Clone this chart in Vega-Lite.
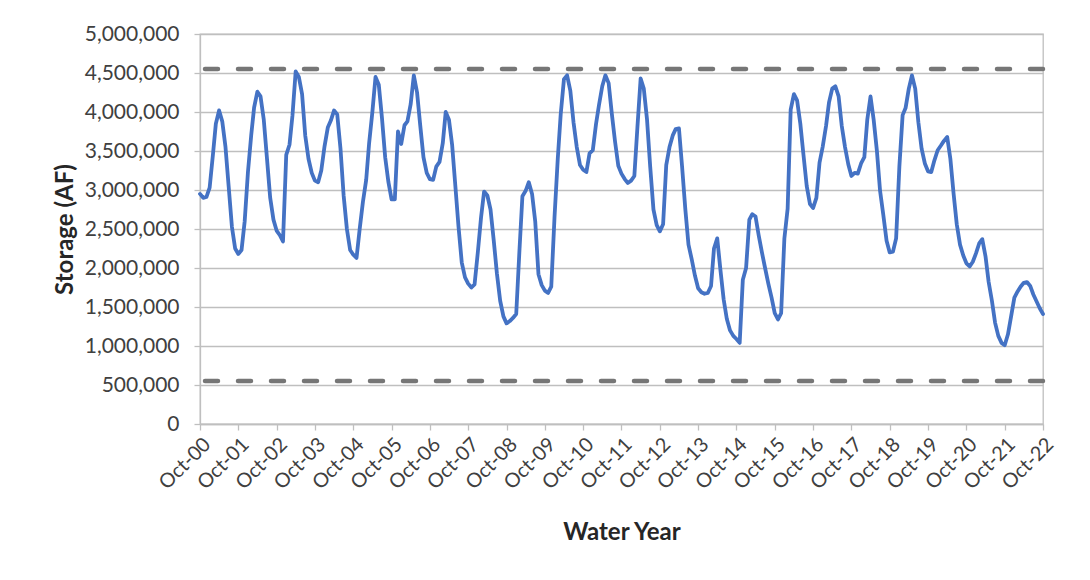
{
"$schema": "https://vega.github.io/schema/vega-lite/v6.json",
"width": 843, "height": 390,
"autosize": {"type": "none"},
"padding": {"left": 200, "top": 34, "right": 47, "bottom": 156},
"background": "white",
"config": {"view": {"stroke": "#bfbfbf", "strokeWidth": 1.3}, "font": "Lato"},
"datasets": {
"limits": [{"limit": 4550000}, {"limit": 550000}],
"storage": [
{"month":"2000-10-01","storage":2950000},{"month":"2000-11-01","storage":2900000},{"month":"2000-12-01","storage":2910000},{"month":"2001-01-01","storage":3030000},{"month":"2001-02-01","storage":3450000},{"month":"2001-03-01","storage":3850000},{"month":"2001-04-01","storage":4020000},{"month":"2001-05-01","storage":3880000},{"month":"2001-06-01","storage":3550000},{"month":"2001-07-01","storage":3050000},{"month":"2001-08-01","storage":2530000},{"month":"2001-09-01","storage":2250000},
{"month":"2001-10-01","storage":2180000},{"month":"2001-11-01","storage":2230000},{"month":"2001-12-01","storage":2600000},{"month":"2002-01-01","storage":3230000},{"month":"2002-02-01","storage":3700000},{"month":"2002-03-01","storage":4060000},{"month":"2002-04-01","storage":4260000},{"month":"2002-05-01","storage":4200000},{"month":"2002-06-01","storage":3900000},{"month":"2002-07-01","storage":3410000},{"month":"2002-08-01","storage":2900000},{"month":"2002-09-01","storage":2620000},
{"month":"2002-10-01","storage":2480000},{"month":"2002-11-01","storage":2420000},{"month":"2002-12-01","storage":2340000},{"month":"2003-01-01","storage":3450000},{"month":"2003-02-01","storage":3580000},{"month":"2003-03-01","storage":3950000},{"month":"2003-04-01","storage":4520000},{"month":"2003-05-01","storage":4450000},{"month":"2003-06-01","storage":4230000},{"month":"2003-07-01","storage":3700000},{"month":"2003-08-01","storage":3400000},{"month":"2003-09-01","storage":3220000},
{"month":"2003-10-01","storage":3120000},{"month":"2003-11-01","storage":3100000},{"month":"2003-12-01","storage":3250000},{"month":"2004-01-01","storage":3560000},{"month":"2004-02-01","storage":3800000},{"month":"2004-03-01","storage":3890000},{"month":"2004-04-01","storage":4020000},{"month":"2004-05-01","storage":3970000},{"month":"2004-06-01","storage":3530000},{"month":"2004-07-01","storage":2930000},{"month":"2004-08-01","storage":2500000},{"month":"2004-09-01","storage":2230000},
{"month":"2004-10-01","storage":2170000},{"month":"2004-11-01","storage":2130000},{"month":"2004-12-01","storage":2500000},{"month":"2005-01-01","storage":2850000},{"month":"2005-02-01","storage":3130000},{"month":"2005-03-01","storage":3600000},{"month":"2005-04-01","storage":4000000},{"month":"2005-05-01","storage":4450000},{"month":"2005-06-01","storage":4350000},{"month":"2005-07-01","storage":3930000},{"month":"2005-08-01","storage":3420000},{"month":"2005-09-01","storage":3100000},
{"month":"2005-10-01","storage":2880000},{"month":"2005-11-01","storage":2880000},{"month":"2005-12-01","storage":3750000},{"month":"2006-01-01","storage":3590000},{"month":"2006-02-01","storage":3830000},{"month":"2006-03-01","storage":3880000},{"month":"2006-04-01","storage":4100000},{"month":"2006-05-01","storage":4470000},{"month":"2006-06-01","storage":4250000},{"month":"2006-07-01","storage":3830000},{"month":"2006-08-01","storage":3420000},{"month":"2006-09-01","storage":3220000},
{"month":"2006-10-01","storage":3140000},{"month":"2006-11-01","storage":3130000},{"month":"2006-12-01","storage":3300000},{"month":"2007-01-01","storage":3360000},{"month":"2007-02-01","storage":3600000},{"month":"2007-03-01","storage":4000000},{"month":"2007-04-01","storage":3900000},{"month":"2007-05-01","storage":3580000},{"month":"2007-06-01","storage":3050000},{"month":"2007-07-01","storage":2530000},{"month":"2007-08-01","storage":2070000},{"month":"2007-09-01","storage":1880000},
{"month":"2007-10-01","storage":1800000},{"month":"2007-11-01","storage":1750000},{"month":"2007-12-01","storage":1790000},{"month":"2008-01-01","storage":2200000},{"month":"2008-02-01","storage":2650000},{"month":"2008-03-01","storage":2980000},{"month":"2008-04-01","storage":2930000},{"month":"2008-05-01","storage":2750000},{"month":"2008-06-01","storage":2350000},{"month":"2008-07-01","storage":1930000},{"month":"2008-08-01","storage":1580000},{"month":"2008-09-01","storage":1380000},
{"month":"2008-10-01","storage":1290000},{"month":"2008-11-01","storage":1320000},{"month":"2008-12-01","storage":1360000},{"month":"2009-01-01","storage":1410000},{"month":"2009-02-01","storage":2230000},{"month":"2009-03-01","storage":2920000},{"month":"2009-04-01","storage":2990000},{"month":"2009-05-01","storage":3100000},{"month":"2009-06-01","storage":2950000},{"month":"2009-07-01","storage":2600000},{"month":"2009-08-01","storage":1920000},{"month":"2009-09-01","storage":1780000},
{"month":"2009-10-01","storage":1710000},{"month":"2009-11-01","storage":1680000},{"month":"2009-12-01","storage":1760000},{"month":"2010-01-01","storage":2650000},{"month":"2010-02-01","storage":3400000},{"month":"2010-03-01","storage":3970000},{"month":"2010-04-01","storage":4420000},{"month":"2010-05-01","storage":4470000},{"month":"2010-06-01","storage":4270000},{"month":"2010-07-01","storage":3870000},{"month":"2010-08-01","storage":3550000},{"month":"2010-09-01","storage":3320000},
{"month":"2010-10-01","storage":3260000},{"month":"2010-11-01","storage":3230000},{"month":"2010-12-01","storage":3470000},{"month":"2011-01-01","storage":3510000},{"month":"2011-02-01","storage":3850000},{"month":"2011-03-01","storage":4090000},{"month":"2011-04-01","storage":4330000},{"month":"2011-05-01","storage":4470000},{"month":"2011-06-01","storage":4370000},{"month":"2011-07-01","storage":3980000},{"month":"2011-08-01","storage":3620000},{"month":"2011-09-01","storage":3310000},
{"month":"2011-10-01","storage":3210000},{"month":"2011-11-01","storage":3140000},{"month":"2011-12-01","storage":3090000},{"month":"2012-01-01","storage":3120000},{"month":"2012-02-01","storage":3180000},{"month":"2012-03-01","storage":3800000},{"month":"2012-04-01","storage":4430000},{"month":"2012-05-01","storage":4300000},{"month":"2012-06-01","storage":3900000},{"month":"2012-07-01","storage":3300000},{"month":"2012-08-01","storage":2750000},{"month":"2012-09-01","storage":2550000},
{"month":"2012-10-01","storage":2470000},{"month":"2012-11-01","storage":2560000},{"month":"2012-12-01","storage":3320000},{"month":"2013-01-01","storage":3550000},{"month":"2013-02-01","storage":3700000},{"month":"2013-03-01","storage":3780000},{"month":"2013-04-01","storage":3790000},{"month":"2013-05-01","storage":3300000},{"month":"2013-06-01","storage":2750000},{"month":"2013-07-01","storage":2300000},{"month":"2013-08-01","storage":2110000},{"month":"2013-09-01","storage":1900000},
{"month":"2013-10-01","storage":1740000},{"month":"2013-11-01","storage":1690000},{"month":"2013-12-01","storage":1670000},{"month":"2014-01-01","storage":1680000},{"month":"2014-02-01","storage":1770000},{"month":"2014-03-01","storage":2250000},{"month":"2014-04-01","storage":2380000},{"month":"2014-05-01","storage":1980000},{"month":"2014-06-01","storage":1600000},{"month":"2014-07-01","storage":1350000},{"month":"2014-08-01","storage":1200000},{"month":"2014-09-01","storage":1130000},
{"month":"2014-10-01","storage":1090000},{"month":"2014-11-01","storage":1040000},{"month":"2014-12-01","storage":1850000},{"month":"2015-01-01","storage":2000000},{"month":"2015-02-01","storage":2620000},{"month":"2015-03-01","storage":2690000},{"month":"2015-04-01","storage":2660000},{"month":"2015-05-01","storage":2420000},{"month":"2015-06-01","storage":2200000},{"month":"2015-07-01","storage":2000000},{"month":"2015-08-01","storage":1800000},{"month":"2015-09-01","storage":1620000},
{"month":"2015-10-01","storage":1420000},{"month":"2015-11-01","storage":1340000},{"month":"2015-12-01","storage":1420000},{"month":"2016-01-01","storage":2380000},{"month":"2016-02-01","storage":2760000},{"month":"2016-03-01","storage":4030000},{"month":"2016-04-01","storage":4230000},{"month":"2016-05-01","storage":4150000},{"month":"2016-06-01","storage":3850000},{"month":"2016-07-01","storage":3450000},{"month":"2016-08-01","storage":3050000},{"month":"2016-09-01","storage":2820000},
{"month":"2016-10-01","storage":2770000},{"month":"2016-11-01","storage":2900000},{"month":"2016-12-01","storage":3350000},{"month":"2017-01-01","storage":3560000},{"month":"2017-02-01","storage":3820000},{"month":"2017-03-01","storage":4120000},{"month":"2017-04-01","storage":4300000},{"month":"2017-05-01","storage":4330000},{"month":"2017-06-01","storage":4200000},{"month":"2017-07-01","storage":3820000},{"month":"2017-08-01","storage":3550000},{"month":"2017-09-01","storage":3330000},
{"month":"2017-10-01","storage":3180000},{"month":"2017-11-01","storage":3220000},{"month":"2017-12-01","storage":3210000},{"month":"2018-01-01","storage":3340000},{"month":"2018-02-01","storage":3420000},{"month":"2018-03-01","storage":3900000},{"month":"2018-04-01","storage":4200000},{"month":"2018-05-01","storage":3900000},{"month":"2018-06-01","storage":3500000},{"month":"2018-07-01","storage":2990000},{"month":"2018-08-01","storage":2680000},{"month":"2018-09-01","storage":2350000},
{"month":"2018-10-01","storage":2200000},{"month":"2018-11-01","storage":2210000},{"month":"2018-12-01","storage":2380000},{"month":"2019-01-01","storage":3300000},{"month":"2019-02-01","storage":3960000},{"month":"2019-03-01","storage":4050000},{"month":"2019-04-01","storage":4300000},{"month":"2019-05-01","storage":4470000},{"month":"2019-06-01","storage":4300000},{"month":"2019-07-01","storage":3870000},{"month":"2019-08-01","storage":3530000},{"month":"2019-09-01","storage":3340000},
{"month":"2019-10-01","storage":3240000},{"month":"2019-11-01","storage":3230000},{"month":"2019-12-01","storage":3380000},{"month":"2020-01-01","storage":3510000},{"month":"2020-02-01","storage":3570000},{"month":"2020-03-01","storage":3630000},{"month":"2020-04-01","storage":3680000},{"month":"2020-05-01","storage":3400000},{"month":"2020-06-01","storage":2950000},{"month":"2020-07-01","storage":2560000},{"month":"2020-08-01","storage":2300000},{"month":"2020-09-01","storage":2160000},
{"month":"2020-10-01","storage":2060000},{"month":"2020-11-01","storage":2020000},{"month":"2020-12-01","storage":2080000},{"month":"2021-01-01","storage":2190000},{"month":"2021-02-01","storage":2320000},{"month":"2021-03-01","storage":2370000},{"month":"2021-04-01","storage":2150000},{"month":"2021-05-01","storage":1820000},{"month":"2021-06-01","storage":1580000},{"month":"2021-07-01","storage":1300000},{"month":"2021-08-01","storage":1130000},{"month":"2021-09-01","storage":1040000},
{"month":"2021-10-01","storage":1010000},{"month":"2021-11-01","storage":1150000},{"month":"2021-12-01","storage":1380000},{"month":"2022-01-01","storage":1620000},{"month":"2022-02-01","storage":1700000},{"month":"2022-03-01","storage":1760000},{"month":"2022-04-01","storage":1810000},{"month":"2022-05-01","storage":1820000},{"month":"2022-06-01","storage":1770000},{"month":"2022-07-01","storage":1660000},{"month":"2022-08-01","storage":1570000},{"month":"2022-09-01","storage":1480000},
{"month":"2022-10-01","storage":1410000}
]
},
"layer": [
{
"data": {"name": "limits"},
"mark": {"type": "rule", "color": "#767676", "strokeWidth": 4.5, "strokeDash": [13, 20], "strokeCap": "round"},
"encoding": {
"y": {"field": "limit", "type": "quantitative", "scale": {"domain": [0, 5000000]},
"axis": {"title": "Storage (AF)", "values": [0,500000,1000000,1500000,2000000,2500000,3000000,3500000,4000000,4500000,5000000], "labelExpr": "format(datum.value, ',')", "labelFont": "Lato", "labelFontSize": 21, "labelColor": "#404040", "labelPadding": 15, "tickSize": 6, "tickColor": "#bfbfbf", "tickWidth": 1.3, "domainColor": "#bfbfbf", "domainWidth": 1.3, "gridColor": "#bfbfbf", "gridWidth": 1.3, "titleFont": "Lato", "titleFontSize": 24, "titleFontWeight": "bold", "titleColor": "#262626", "titlePadding": 7}}
}
},
{
"data": {"name": "storage"},
"mark": {"type": "line", "color": "#4472C4", "strokeWidth": 3.8, "strokeJoin": "round", "strokeCap": "round"},
"encoding": {
"x": {"field": "month", "type": "temporal", "scale": {"type": "utc", "domain": [{"year": 2000, "month": "oct", "date": 1, "utc": true}, {"year": 2022, "month": "oct", "date": 1, "utc": true}]},
"axis": {"title": "Water Year", "values": [
{"year":2000,"month":"oct","date":1,"utc":true},{"year":2001,"month":"oct","date":1,"utc":true},{"year":2002,"month":"oct","date":1,"utc":true},{"year":2003,"month":"oct","date":1,"utc":true},{"year":2004,"month":"oct","date":1,"utc":true},{"year":2005,"month":"oct","date":1,"utc":true},{"year":2006,"month":"oct","date":1,"utc":true},{"year":2007,"month":"oct","date":1,"utc":true},{"year":2008,"month":"oct","date":1,"utc":true},{"year":2009,"month":"oct","date":1,"utc":true},{"year":2010,"month":"oct","date":1,"utc":true},{"year":2011,"month":"oct","date":1,"utc":true},{"year":2012,"month":"oct","date":1,"utc":true},{"year":2013,"month":"oct","date":1,"utc":true},{"year":2014,"month":"oct","date":1,"utc":true},{"year":2015,"month":"oct","date":1,"utc":true},{"year":2016,"month":"oct","date":1,"utc":true},{"year":2017,"month":"oct","date":1,"utc":true},{"year":2018,"month":"oct","date":1,"utc":true},{"year":2019,"month":"oct","date":1,"utc":true},{"year":2020,"month":"oct","date":1,"utc":true},{"year":2021,"month":"oct","date":1,"utc":true},{"year":2022,"month":"oct","date":1,"utc":true}],
"labelExpr": "utcFormat(datum.value, '%b-%y')", "labelAngle": -45, "labelFont": "Lato", "labelFontSize": 20, "labelColor": "#404040", "labelPadding": 4, "labelOverlap": false, "labelBound": false, "labelFlush": false, "tickSize": 6, "tickColor": "#bfbfbf", "tickWidth": 1.3, "domainColor": "#bfbfbf", "domainWidth": 1.3, "grid": false, "titleFont": "Lato", "titleFontSize": 24, "titleFontWeight": "bold", "titleColor": "#262626", "titlePadding": 28}},
"y": {"field": "storage", "type": "quantitative", "scale": {"domain": [0, 5000000]},
"axis": {"title": "Storage (AF)", "values": [0,500000,1000000,1500000,2000000,2500000,3000000,3500000,4000000,4500000,5000000], "labelExpr": "format(datum.value, ',')", "labelFont": "Lato", "labelFontSize": 21, "labelColor": "#404040", "labelPadding": 15, "tickSize": 6, "tickColor": "#bfbfbf", "tickWidth": 1.3, "domainColor": "#bfbfbf", "domainWidth": 1.3, "gridColor": "#bfbfbf", "gridWidth": 1.3, "titleFont": "Lato", "titleFontSize": 24, "titleFontWeight": "bold", "titleColor": "#262626", "titlePadding": 7}}
}
}
]
}
